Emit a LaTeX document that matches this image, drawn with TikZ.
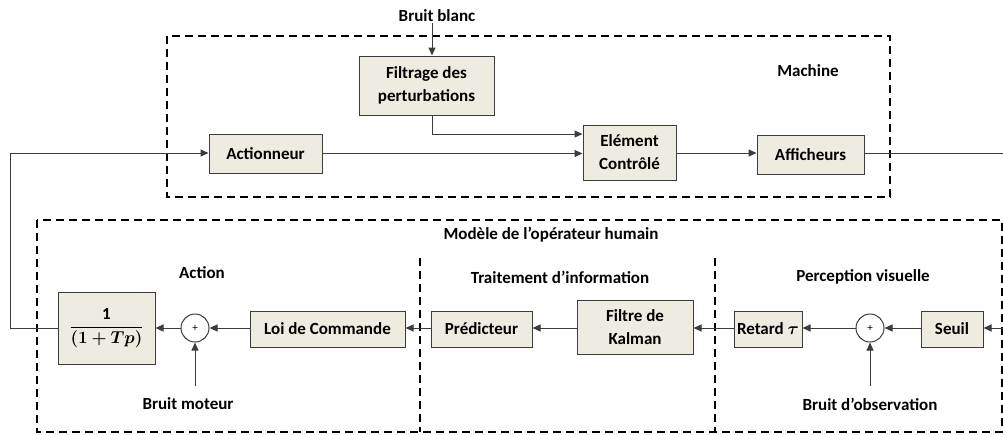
\documentclass[tikz,border=0pt]{standalone}
\usepackage{fontspec}
\setmainfont{Carlito}
\usepackage{amsmath}
\usepackage{bm}
\usetikzlibrary{arrows.meta,calc}
\definecolor{boxfill}{HTML}{EEECE1}
\definecolor{linegray}{HTML}{3C3C3C}
\tikzset{
  blk/.style={draw=linegray, line width=1pt, fill=boxfill, inner sep=0pt, align=center,
              font=\fontsize{17}{23}\selectfont\bfseries},
  sumc/.style={draw=linegray, line width=1pt, fill=white, circle, minimum size=28pt, inner sep=0pt,
               font=\fontsize{11}{11}\selectfont},
  lbl/.style={font=\fontsize{17}{20}\selectfont\bfseries, inner sep=0pt},
  conn/.style={draw=linegray, line width=1pt},
  arr/.style={conn, -{Triangle[length=8pt,width=7pt]}},
  grp/.style={draw=black, line width=2pt, dash pattern=on 8pt off 5pt},
}
\begin{document}
\begin{tikzpicture}[x=1pt,y=-1pt]
\useasboundingbox (0,0) rectangle (1003,434);
% group frames
\draw[grp] (167,36) rectangle (890,197);
\draw[grp] (37,220) rectangle (1002,432);
\draw[grp] (420,258) -- (420,432);
\draw[grp] (715,258) -- (715,432);

% labels
\node[lbl] (bbl) at (437,16) {Bruit blanc};
\node[lbl] (mach) at (808,71) {Machine};
\node[lbl] (hum) at (551,235) {Modèle de l’opérateur humain};
\node[lbl] (lact) at (202,273) {Action};
\node[lbl] (ltrt) at (560,277) {Traitement d’information};
\node[lbl] (lper) at (863,277) {Perception visuelle};
\node[lbl] (bmot) at (188,404) {Bruit moteur};
\node[lbl] (bobs) at (870,404) {Bruit d’observation};

% blocks
\node[blk, minimum width=135pt, minimum height=59pt] (filt) at (426.5,85.5) {Filtrage des\\perturbations};
\node[blk, minimum width=113pt, minimum height=39pt] (act) at (265.5,153.5) {Actionneur};
\node[blk, minimum width=93pt, minimum height=55pt] (elem) at (629.5,152.5) {Elément\\Contrôlé};
\node[blk, minimum width=107pt, minimum height=39pt] (aff) at (810.5,154.5) {Afficheurs};

\node[blk, minimum width=97pt, minimum height=72pt, font=\fontsize{17}{20}\selectfont] (frac) at (106.5,328)
  {$\displaystyle\frac{\mathbf{1}}{\bm{(1+Tp)}}$};
\node[sumc] (s1) at (195,328) {+};
\node[blk, minimum width=155pt, minimum height=36pt] (loi) at (327.5,329) {Loi de Commande};
\node[blk, minimum width=101pt, minimum height=36pt] (pred) at (481.5,329) {Prédicteur};
\node[blk, minimum width=116pt, minimum height=54pt] (kal) at (635,327) {Filtre de\\Kalman};
\node[blk, minimum width=68pt, minimum height=36pt] (ret) at (768,329) {Retard $\bm{\tau}$};
\node[sumc] (s2) at (870,328) {+};
\node[blk, minimum width=62pt, minimum height=36pt] (seuil) at (952,329) {Seuil};

% coordinates
\coordinate (bbtop) at (432,23);
\coordinate (fbot) at (432,115);
\coordinate (rout) at (1003,153);
\coordinate (rin) at (1003,328);
\coordinate (lft) at (10,328);
\coordinate (lftup) at (10,153);
\coordinate (bm) at (195,386);
\coordinate (bo) at (870,386);

% connectors machine
\draw[arr] (bbtop) -- (bbtop |- filt.north);
\draw[arr] (fbot) |- ($(elem.west)+(0,-18.5)$);
\draw[arr] (act.east) -- (act.east -| elem.west);
\draw[arr] (elem.east |- 0,153) -- (aff.west |- 0,153);
\draw[conn] (aff.east |- rout) -- (rout);

% connectors human
\draw[arr] (rin) -- (seuil.east |- rin);
\draw[arr] (seuil.west |- s2) -- (s2.east);
\draw[arr] (s2.west) -- (ret.east |- s2);
\draw[arr] (ret.west |- s2) -- (kal.east |- s2);
\draw[arr] (kal.west |- s2) -- (pred.east |- s2);
\draw[arr] (pred.west |- s2) -- (loi.east |- s2);
\draw[arr] (loi.west |- s1) -- (s1.east);
\draw[arr] (s1.west) -- (frac.east |- s1);
\draw[arr] (frac.west) -- (lft) -- (lftup) -- (act.west |- lftup);
\draw[arr] (bm) -- (s1.south);
\draw[arr] (bo) -- (s2.south);
\end{tikzpicture}
\end{document}
